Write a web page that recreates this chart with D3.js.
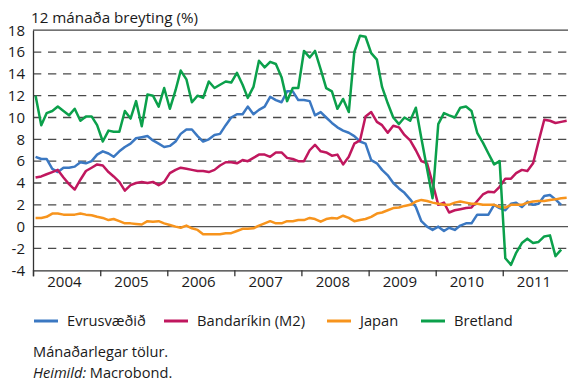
<!DOCTYPE html>
<html>
<head>
<meta charset="utf-8">
<script src="https://cdn.jsdelivr.net/npm/d3@7"></script>
<style>
  body { margin: 0; background: #fff; }
  svg { display: block; }
  text { font-family: "Open Sans", sans-serif; fill: #1a1a1a; }
</style>
</head>
<body>
<svg id="chart" width="568" height="383"></svg>
<script>
// 12-month growth of broad money (%), monthly, from January 2004
const evrusvaedid = [
  6.4, 6.2, 6.2, 5.3, 5.0, 5.4, 5.4, 5.5, 5.9, 5.8,
  6.0, 6.6, 6.9, 6.7, 6.4, 6.9, 7.3, 7.6, 8.1, 8.2,
  8.3, 7.9, 7.6, 7.3, 7.4, 7.8, 8.5, 8.9, 8.9, 8.3,
  7.8, 8.0, 8.4, 8.5, 9.3, 10.0, 10.3, 10.3, 11.0, 10.3,
  10.7, 11.0, 11.9, 11.6, 11.4, 12.4, 12.4, 11.6, 11.6, 11.5,
  10.2, 10.5, 10.0, 9.5, 9.1, 8.8, 8.6, 8.3, 7.8, 7.6,
  6.1, 5.8, 5.2, 4.7, 4.0, 3.5, 3.1, 2.5, 1.8, 0.5,
  0.0, -0.3, 0.0, -0.4, -0.1, -0.3, 0.1, 0.3, 0.3, 1.1,
  1.1, 1.1, 2.0, 1.7, 1.5, 2.1, 2.2, 1.8, 2.3, 2.0,
  2.1, 2.8, 2.9, 2.5, 2.0
];
const bandarikin = [
  4.5, 4.6, 4.8, 5.0, 5.2, 4.5, 3.9, 3.4, 4.3, 5.1,
  5.4, 5.7, 5.6, 5.0, 4.6, 4.1, 3.3, 3.8, 4.0, 4.1,
  4.0, 4.1, 3.8, 4.1, 4.9, 5.2, 5.4, 5.3, 5.2, 5.1,
  5.1, 5.0, 5.2, 5.6, 5.9, 5.9, 5.8, 6.1, 6.0, 6.3,
  6.6, 6.6, 6.4, 6.8, 6.8, 6.3, 6.2, 6.0, 6.0, 7.0,
  7.5, 6.9, 6.8, 6.5, 6.6, 5.7, 6.4, 7.6, 7.9, 10.1,
  10.5, 9.6, 9.3, 8.6, 9.25, 9.1, 8.4, 7.9, 7.0, 6.0,
  5.8, 4.0, 2.0, 2.2, 1.3, 1.5, 1.6, 1.7, 1.75, 2.35,
  2.95, 3.2, 3.15, 3.65, 4.4, 4.4, 4.9, 5.2, 5.1, 5.8,
  7.8, 9.8, 9.7, 9.5, 9.6, 9.7
];
const japan = [
  0.8, 0.8, 0.9, 1.2, 1.2, 1.1, 1.1, 1.1, 1.2, 1.1,
  1.05, 0.9, 0.8, 0.6, 0.7, 0.5, 0.3, 0.3, 0.25, 0.2,
  0.5, 0.45, 0.5, 0.3, 0.15, 0.0, -0.1, 0.1, -0.15, -0.3,
  -0.7, -0.7, -0.7, -0.7, -0.6, -0.6, -0.4, -0.2, -0.2, -0.15,
  0.1, 0.3, 0.5, 0.3, 0.3, 0.5, 0.5, 0.6, 0.6, 0.8,
  0.7, 0.45, 0.7, 0.8, 0.75, 1.0, 0.8, 0.5, 0.6, 0.7,
  0.9, 1.2, 1.3, 1.5, 1.7, 1.75, 1.9, 2.0, 2.3, 2.45,
  2.35, 2.2, 2.1, 2.0, 2.0, 2.2, 2.3, 2.2, 2.1, 2.1,
  2.0, 2.0, 2.0, 1.8, 1.75, 2.0, 2.0, 2.0, 2.2, 2.3,
  2.35, 2.35, 2.45, 2.5, 2.6, 2.65
];
const bretland = [
  12.0, 9.3, 10.4, 10.6, 11.0, 10.6, 10.2, 10.8, 9.7, 10.1,
  10.1, 9.3, 7.8, 8.8, 8.7, 8.7, 10.6, 9.9, 11.5, 9.2,
  12.1, 12.0, 11.0, 12.7, 10.8, 12.5, 14.3, 13.5, 11.4, 12.0,
  11.8, 13.3, 12.7, 13.0, 13.3, 13.2, 14.1, 13.0, 11.8, 12.8,
  15.2, 14.6, 15.1, 14.9, 13.7, 11.5, 12.7, 12.7, 16.1, 15.5,
  16.1, 14.4, 12.7, 12.4, 10.8, 11.7, 10.5, 16.0, 17.5, 17.4,
  15.9, 15.3, 12.8, 11.3, 10.0, 9.4, 10.0, 9.7, 10.9, 8.1,
  5.3, 2.6, 9.4, 10.4, 10.2, 10.0, 10.9, 11.0, 10.6, 8.6,
  7.7, 6.7, 5.7, 6.0, -2.9, -3.5, -2.4, -1.5, -1.1, -1.5,
  -1.4, -0.9, -0.8, -2.7, -2.1
];

const seriesNames = ["Evrusvæðið", "Bandaríkin (M2)", "Japan", "Bretland"];
const seriesColors = ["#3b78c2", "#c0175e", "#f7941d", "#0ba04b"];
const seriesValues = [evrusvaedid, bandarikin, japan, bretland];

const yTickValues = [-4, -2, 0, 2, 4, 6, 8, 10, 12, 14, 16, 18];
const yearLabels = [2004, 2005, 2006, 2007, 2008, 2009, 2010, 2011];

const titleText = "12 mánaða breyting (%)";
const noteText = "Mánaðarlegar tölur.";
const sourceLabel = "Heimild:";
const sourceText = " Macrobond.";

const svg = d3.select("#chart");
const W = 568, H = 383;
svg.append("rect").attr("width", W).attr("height", H).attr("fill", "#fff");

const x = d3.scaleTime()
  .domain([new Date(2004, 0, 1), new Date(2012, 0, 1)])
  .range([33, 569.8]);
const y = d3.scaleLinear().domain([-4, 18]).range([270.3, 30.2]);

const monthDate = i => new Date(2004, i, 15);

// dashed horizontal grid
svg.append("g").selectAll("line")
  .data(yTickValues.filter(v => v !== -4 && v !== 0 && v !== 18))
  .join("line")
  .attr("x1", x.range()[0]).attr("x2", x.range()[1])
  .attr("y1", d => y(d)).attr("y2", d => y(d))
  .attr("stroke", "#4a4a4a").attr("stroke-width", 1.3)
  .attr("stroke-dasharray", "8.3,6.7");

// zero line
svg.append("line")
  .attr("x1", x.range()[0]).attr("x2", x.range()[1])
  .attr("y1", y(0)).attr("y2", y(0))
  .attr("stroke", "#555").attr("stroke-width", 1.3);

// top frame line
svg.append("line")
  .attr("x1", x.range()[0]).attr("x2", x.range()[1])
  .attr("y1", y(18)).attr("y2", y(18))
  .attr("stroke", "#444").attr("stroke-width", 1.3);

// series lines
const line = d3.line()
  .x((d, i) => x(monthDate(i)))
  .y(d => y(d));

seriesValues.forEach((vals, k) => {
  svg.append("path")
    .datum(vals)
    .attr("fill", "none")
    .attr("stroke", seriesColors[k])
    .attr("stroke-width", 2.5)
    .attr("stroke-linejoin", "round")
    .attr("d", line);
});

// y axis
const yAxis = d3.axisLeft(y).tickValues(yTickValues).tickSize(0).tickPadding(8)
  .tickFormat(d => d);
const gy = svg.append("g").attr("transform", `translate(${x.range()[0]},0)`).call(yAxis);
gy.select(".domain").attr("stroke", "#333").attr("stroke-width", 1.3);
gy.selectAll("text").attr("font-size", 15).attr("fill", "#1a1a1a")
  .style("font-family", '"Open Sans", sans-serif');

// x axis: year ticks at boundaries, labels centred in each year
const yearStarts = yearLabels.map(yr => new Date(yr, 0, 1));
const xAxis = d3.axisBottom(x).tickValues(yearStarts).tickSize(6).tickFormat("");
const gx = svg.append("g").attr("transform", `translate(0,${y(-4)})`).call(xAxis);
gx.select(".domain").attr("stroke", "#333").attr("stroke-width", 1.3);
gx.selectAll(".tick line").attr("stroke", "#333").attr("stroke-width", 1.3);

svg.append("g").selectAll("text")
  .data(yearLabels)
  .join("text")
  .attr("x", d => x(new Date(d, 6, 1)) - 2)
  .attr("y", 287)
  .attr("text-anchor", "middle")
  .attr("font-size", 15)
  .text(d => d);

// title
svg.append("text").attr("x", 31).attr("y", 22.5)
  .attr("font-size", 15.2).text(titleText);

// legend
const legendX = [34, 164, 327, 421];
const legend = svg.append("g");
seriesNames.forEach((name, k) => {
  legend.append("line")
    .attr("x1", legendX[k]).attr("x2", legendX[k] + 24)
    .attr("y1", 321).attr("y2", 321)
    .attr("stroke", seriesColors[k]).attr("stroke-width", 3);
  legend.append("text")
    .attr("x", legendX[k] + 33).attr("y", 326)
    .attr("font-size", 14.7).text(name);
});

// notes
svg.append("text").attr("x", 33).attr("y", 357).attr("font-size", 14.6).text(noteText);
const src = svg.append("text").attr("x", 33).attr("y", 378).attr("font-size", 14.6);
src.append("tspan").attr("font-style", "italic").text(sourceLabel);
src.append("tspan").text(sourceText);
</script>
</body>
</html>
